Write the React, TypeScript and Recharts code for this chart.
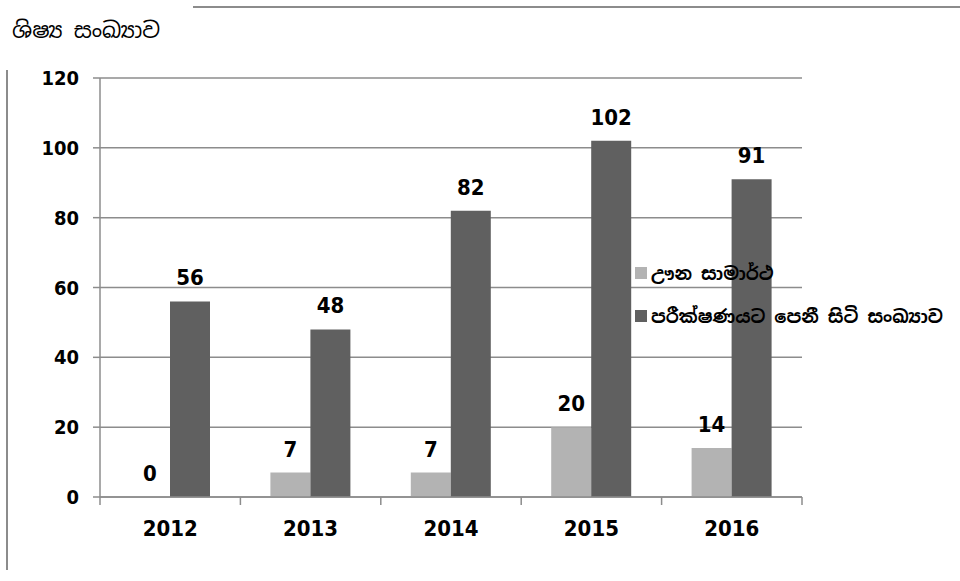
import React from 'react';
import { BarChart, Bar, XAxis, YAxis, CartesianGrid, LabelList, Legend } from 'recharts';

const years = ['2012', '2013', '2014', '2015', '2016'];
const failValues = [0, 7, 7, 20, 14];
const sitValues = [56, 48, 82, 102, 91];
const yTicks = [0, 20, 40, 60, 80, 100, 120];

const titleText = 'ශිෂ්‍ය සංඛ්‍යාව';
const failName = 'ඌන සාමාර්ථ';
const sitName = 'පරීක්ෂණයට පෙනී සිටි සංඛ්‍යාව';

const LIGHT = '#b3b3b3';
const DARK = '#606060';
const LINE = '#8c8c8c';
const NUM_FONT = '"DejaVu Sans Condensed", "DejaVu Sans", sans-serif';
const SIN_FONT = '"Noto Sans Sinhala", "Iskoola Pota", "Noto Sans", sans-serif';
const numStyle = { fontStretch: 'condensed' } as React.CSSProperties;

const data = years.map((y, i) => ({ year: y, fail: failValues[i], sit: sitValues[i] }));

const XTick = (props: any) => {
  const { x, y, payload, index, visibleTicksCount } = props;
  const half = payload && payload.offset ? payload.offset : 70.2;
  const isLast = index === (visibleTicksCount ?? years.length) - 1;
  return (
    <g>
      <line x1={x - half} y1={y} x2={x - half} y2={y + 8} stroke={LINE} strokeWidth={1.5} />
      {isLast && <line x1={x + half} y1={y} x2={x + half} y2={y + 8} stroke={LINE} strokeWidth={1.5} />}
      <text x={x} y={y + 39} textAnchor="middle" fontFamily={NUM_FONT} fontWeight="bold" fontSize={22} fill="#000" style={numStyle}>
        {payload.value}
      </text>
    </g>
  );
};

const LegendContent = () => {
  const items = [
    { name: failName, color: LIGHT },
    { name: sitName, color: DARK },
  ];
  return (
    <div style={{ position: 'absolute', left: 635, top: 258 }}>
      {items.map((it, i) => (
        <div key={i} style={{ display: 'flex', alignItems: 'center', height: 30, marginBottom: i === 0 ? 13 : 0 }}>
          <div style={{ width: 12, height: 12, background: it.color, marginRight: 4 }} />
          <span style={{ fontFamily: SIN_FONT, fontWeight: 'bold', fontSize: 18, color: '#000', whiteSpace: 'nowrap' }}>
            {it.name}
          </span>
        </div>
      ))}
    </div>
  );
};

export default function App() {
  return (
    <div style={{ position: 'absolute', left: 0, top: 0, width: 960, height: 581, background: '#fff' }}>
      <div style={{ position: 'absolute', left: 193, top: 6, width: 767, height: 2, background: LINE }} />
      <div style={{ position: 'absolute', left: 6, top: 70, width: 2, height: 500, background: LINE }} />
      <div
        style={{
          position: 'absolute',
          left: 12,
          top: 16,
          fontFamily: SIN_FONT,
          fontSize: 22,
          color: '#000',
          whiteSpace: 'nowrap',
        }}
      >
        {titleText}
      </div>
      <BarChart
        width={960}
        height={581}
        data={data}
        margin={{ top: 78, right: 158, bottom: 54, left: 0 }}
        barGap={0}
        barSize={40}
      >
        <CartesianGrid horizontal vertical={false} stroke={LINE} strokeWidth={1.5} />
        <XAxis
          dataKey="year"
          height={30}
          tickLine={false}
          tickSize={0}
          tickMargin={0}
          axisLine={{ stroke: LINE, strokeWidth: 1.5 }}
          tick={<XTick />}
          interval={0}
        />
        <YAxis
          width={100}
          domain={[0, 120]}
          ticks={yTicks}
          tickSize={7}
          tickMargin={14}
          axisLine={{ stroke: LINE, strokeWidth: 1.5 }}
          tickLine={{ stroke: LINE, strokeWidth: 1.5 }}
          tick={{ fill: '#000', fontFamily: NUM_FONT, fontWeight: 'bold', fontSize: 20, style: numStyle }}
        />
        <Legend content={<LegendContent />} wrapperStyle={{ position: 'absolute', left: 0, top: 0, width: 0, height: 0 }} />
        <Bar dataKey="fail" name={failName} fill={LIGHT} minPointSize={0.5} isAnimationActive={false}>
          <LabelList dataKey="fail" position="top" offset={16} fill="#000" fontFamily={NUM_FONT} fontWeight="bold" fontSize={22} style={numStyle} />
        </Bar>
        <Bar dataKey="sit" name={sitName} fill={DARK} isAnimationActive={false}>
          <LabelList dataKey="sit" position="top" offset={16} fill="#000" fontFamily={NUM_FONT} fontWeight="bold" fontSize={22} style={numStyle} />
        </Bar>
      </BarChart>
    </div>
  );
}
